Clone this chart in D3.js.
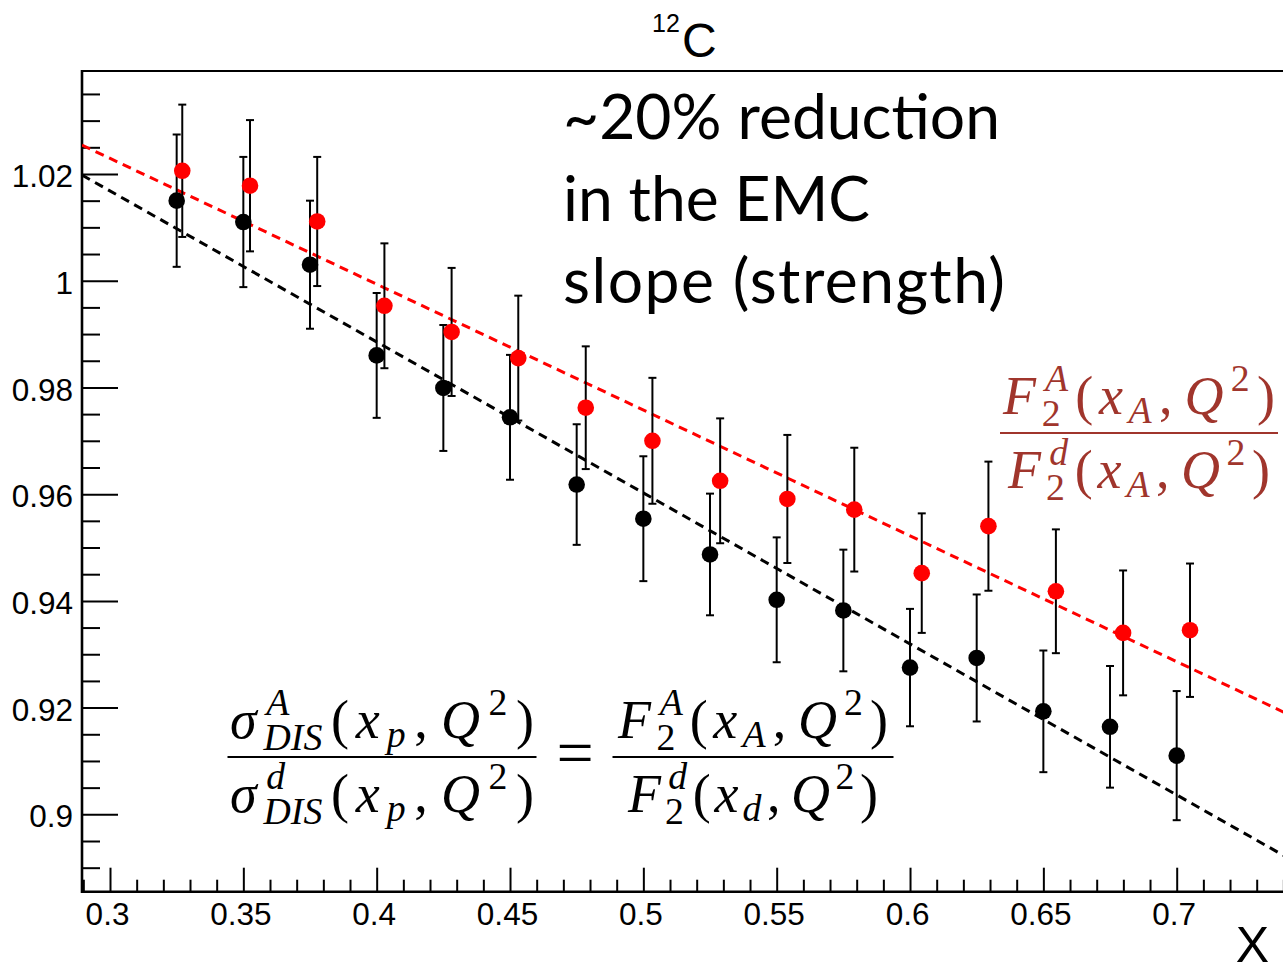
<!DOCTYPE html>
<html>
<head>
<meta charset="utf-8">
<script src="https://cdn.jsdelivr.net/npm/d3@7"></script>
<style>
  html, body { margin: 0; padding: 0; background: #fff; overflow: hidden; }
  svg { display: block; }
</style>
</head>
<body>
<svg id="chart" width="1283" height="966"></svg>
<script>
// ---- data: 12C / d ratio versus x, before (black) and after (red) the x shift ----
const xBlack = [0.325, 0.35, 0.375, 0.4, 0.425, 0.45, 0.475, 0.5, 0.525, 0.55, 0.575, 0.6, 0.625, 0.65, 0.675, 0.7];
const ratioBlack = [1.0150, 1.0110, 1.0030, 0.9860, 0.9799, 0.9744, 0.9618, 0.9554, 0.9487, 0.9402, 0.9382, 0.9275, 0.9293, 0.9193, 0.9164, 0.9110];
const errBlack = [0.0124, 0.0122, 0.0120, 0.0117, 0.0118, 0.0117, 0.0113, 0.0117, 0.0114, 0.0117, 0.0114, 0.0110, 0.0119, 0.0114, 0.0114, 0.0121];

const xRed = [0.3271, 0.3525, 0.3777, 0.4029, 0.4281, 0.4531, 0.4784, 0.5034, 0.5288, 0.5540, 0.5791, 0.6044, 0.6294, 0.6547, 0.6799, 0.7050];
const ratioRed = [1.0206, 1.0178, 1.0111, 0.9953, 0.9904, 0.9855, 0.9762, 0.9700, 0.9625, 0.9591, 0.9571, 0.9452, 0.9540, 0.9418, 0.9340, 0.9345];
const errRed = [0.0124, 0.0123, 0.0121, 0.0117, 0.0120, 0.0117, 0.0115, 0.0118, 0.0117, 0.0120, 0.0116, 0.0112, 0.0121, 0.0116, 0.0117, 0.0125];

// linear fits, given by their end points [x, ratio]
const fitBlack = [[0.2895, 1.0198], [0.745, 0.8909]];
const fitRed = [[0.2895, 1.0254], [0.745, 0.9180]];

// axis ticks
const xMajorTicks = [0.3, 0.35, 0.4, 0.45, 0.5, 0.55, 0.6, 0.65, 0.7];
const xTickLabels = ["0.3", "0.35", "0.4", "0.45", "0.5", "0.55", "0.6", "0.65", "0.7"];
const yMajorTicks = [0.9, 0.92, 0.94, 0.96, 0.98, 1.0, 1.02];
const yTickLabels = ["0.9", "0.92", "0.94", "0.96", "0.98", "1", "1.02"];

const annotationLines = ["~20% reduction", "in the EMC", "slope (strength)"];
const annotationWidths = [437, 307, 442];

// ---- layout ----
const svg = d3.select("#chart");
svg.append("rect").attr("width", 1283).attr("height", 966).attr("fill", "#fff");

const plotLeft = 82, plotTop = 71, plotBottom = 891.7, plotRight = 1296.7;
const x = d3.scaleLinear().domain([0.2895, 0.745]).range([plotLeft, plotRight]);
const y = d3.scaleLinear().domain([0.8855, 1.0393]).range([plotBottom, plotTop]);

const SANS = "'Liberation Sans', Arial, Helvetica, sans-serif";
const SERIF = "'Liberation Serif', 'Times New Roman', serif";

svg.append("defs").append("clipPath").attr("id", "plotclip")
  .append("rect").attr("x", plotLeft).attr("y", plotTop).attr("width", plotRight - plotLeft).attr("height", plotBottom - plotTop);

// ---- axes ----
const xMinor = d3.range(29, 75).map(d => d / 100).filter(v => !xMajorTicks.some(m => Math.abs(m - v) < 1e-6));
const yMinor = d3.range(177, 208).map(d => d * 0.005).filter(v => v > 0.8855 && v < 1.0393 && !yMajorTicks.some(m => Math.abs(m - v) < 1e-6));

const gx = svg.append("g").attr("transform", `translate(0,${plotBottom})`);
gx.call(d3.axisBottom(x).tickValues(xMajorTicks).tickFormat((d, i) => xTickLabels[i]).tickSizeInner(-24).tickSizeOuter(0).tickPadding(11));
gx.append("g").call(d3.axisBottom(x).tickValues(xMinor).tickFormat("").tickSizeInner(-12).tickSizeOuter(0));

const gy = svg.append("g").attr("transform", `translate(${plotLeft},0)`);
gy.call(d3.axisLeft(y).tickValues(yMajorTicks).tickFormat((d, i) => yTickLabels[i]).tickSizeInner(-36).tickSizeOuter(0).tickPadding(9));
gy.append("g").call(d3.axisLeft(y).tickValues(yMinor).tickFormat("").tickSizeInner(-18).tickSizeOuter(0));

svg.selectAll(".domain").remove();
svg.selectAll(".tick line").attr("stroke", "#000").attr("stroke-width", 2);
svg.selectAll(".tick text").attr("font-family", SANS).attr("font-size", 31.5).attr("fill", "#000");
gx.selectAll(".tick text").attr("dx", -3);
gy.selectAll(".tick text").attr("dy", "0.4em");

// frame
svg.append("line").attr("x1", plotLeft).attr("x2", 1290).attr("y1", plotTop).attr("y2", plotTop).attr("stroke", "#000").attr("stroke-width", 2);
svg.append("line").attr("x1", plotLeft).attr("x2", 1290).attr("y1", plotBottom).attr("y2", plotBottom).attr("stroke", "#000").attr("stroke-width", 2.6);
svg.append("line").attr("x1", plotLeft).attr("x2", plotLeft).attr("y1", plotTop - 1).attr("y2", plotBottom + 1.3).attr("stroke", "#000").attr("stroke-width", 2.6);

// ---- fit lines ----
const plotArea = svg.append("g").attr("clip-path", "url(#plotclip)");
const lineGen = d3.line().x(d => x(d[0])).y(d => y(d[1]));
plotArea.append("path").datum(fitBlack).attr("d", lineGen).attr("fill", "none")
  .attr("stroke", "#000").attr("stroke-width", 3).attr("stroke-dasharray", "9,6");
plotArea.append("path").datum(fitRed).attr("d", lineGen).attr("fill", "none")
  .attr("stroke", "#ff0000").attr("stroke-width", 3).attr("stroke-dasharray", "9,6");

// ---- points with error bars ----
function drawSeries(xs, vals, errs, color) {
  const g = svg.append("g");
  const pts = xs.map((xv, i) => ({ x: xv, v: vals[i], e: errs[i] }));
  const bars = g.selectAll("g.bar").data(pts).join("g").attr("class", "bar");
  bars.append("line").attr("x1", d => x(d.x)).attr("x2", d => x(d.x))
    .attr("y1", d => y(d.v + d.e)).attr("y2", d => y(d.v - d.e)).attr("stroke", "#000").attr("stroke-width", 2);
  [1, -1].forEach(s => {
    bars.append("line").attr("x1", d => x(d.x) - 4).attr("x2", d => x(d.x) + 4)
      .attr("y1", d => y(d.v + s * d.e)).attr("y2", d => y(d.v + s * d.e)).attr("stroke", "#000").attr("stroke-width", 2);
  });
  g.selectAll("circle").data(pts).join("circle")
    .attr("cx", d => x(d.x)).attr("cy", d => y(d.v)).attr("r", 8.3).attr("fill", color);
}
drawSeries(xBlack, ratioBlack, errBlack, "#000");
drawSeries(xRed, ratioRed, errRed, "#ff0000");

// ---- title and axis title ----
const title = svg.append("text").attr("font-family", SANS).attr("fill", "#000");
title.append("tspan").attr("x", 652).attr("y", 32).attr("font-size", 25).text("12");
title.append("tspan").attr("x", 682).attr("y", 57).attr("font-size", 48).text("C");

svg.append("text").attr("x", 1269).attr("y", 962).attr("text-anchor", "end")
  .attr("font-family", SANS).attr("font-size", 50).attr("fill", "#000").text("X");

// ---- annotation ----
const annot = svg.append("g");
const ANNOT_FONT = "Lato, 'Open Sans', sans-serif";
const probe = annot.append("text").attr("font-family", ANNOT_FONT).attr("font-size", 100).text(annotationLines[0]);
const annotSize = 100 * annotationWidths[0] / probe.node().getComputedTextLength();
probe.remove();
annotationLines.forEach((t, i) => {
  annot.append("text").attr("x", 563).attr("y", 139 + i * 82)
    .attr("font-family", ANNOT_FONT).attr("font-size", annotSize).attr("fill", "#000")
    .attr("textLength", annotationWidths[i]).attr("lengthAdjust", "spacing").text(t);
});

// ---- formulas ----
// One <text> per row; tokens: {t, it} glyph run on the baseline,
// {sup, sub, supIt, subIt} scripts attached to the previous glyph.
function mathRun(g, tokens, fs, color, extra) {
  const row = g.append("text").attr("font-family", SERIF).attr("fill", color);
  let cx = 0;
  const put = (str, dx, dy, size, it) => {
    const ts = row.append("tspan").attr("x", cx + dx).attr("y", dy)
      .attr("font-size", size).attr("font-style", it ? "italic" : "normal").text(str);
    return ts.node().getComputedTextLength();
  };
  tokens.forEach((tk, i) => {
    const gap = i < tokens.length - 1 ? extra : 0;
    if (tk.sup !== undefined || tk.sub !== undefined) {
      let w = 0;
      if (tk.sup) { const dx = fs * (tk.supDx || 0); w = Math.max(w, dx + put(tk.sup, dx, -fs * 0.42, fs * 0.7, tk.supIt)); }
      if (tk.sub) { const dx = fs * (tk.subDx || 0); w = Math.max(w, dx + put(tk.sub, dx, fs * (tk.sup ? 0.22 : 0.16), fs * 0.7, tk.subIt)); }
      cx += w + fs * 0.03 + gap;
    } else {
      cx += put(tk.t, 0, 0, fs, tk.it) + (tk.after || 0) * fs + gap;
    }
  });
  return cx;
}

// fraction with glyphs at a fixed size, spaced out to the given widths
function fraction(num, den, cxCenter, barY, numW, denW, barW, fs, color) {
  const g = svg.append("g");
  const fit = (tokens, target) => {
    const tmp = g.append("g");
    const w0 = mathRun(tmp, tokens, fs, color, 0);
    tmp.remove();
    const extra = (target - w0) / (tokens.length - 1);
    const gg = g.append("g");
    const w = mathRun(gg, tokens, fs, color, extra);
    return { gg, w };
  };
  const n = fit(num, numW), d = fit(den, denW);
  n.gg.attr("transform", `translate(${cxCenter - n.w / 2},${barY - 19})`);
  d.gg.attr("transform", `translate(${cxCenter - d.w / 2},${barY + 55})`);
  g.append("line").attr("x1", cxCenter - barW / 2).attr("x2", cxCenter + barW / 2)
    .attr("y1", barY).attr("y2", barY).attr("stroke", color).attr("stroke-width", 2);
}

const sigmaNum = [{ t: "σ", it: true }, { sup: "A", supIt: true, supDx: 0.05, sub: "DIS", subIt: true }, { t: "(" }, { t: "x", it: true }, { sub: "p", subIt: true }, { t: ",", after: 0.12 }, { t: "Q", it: true }, { sup: "2", supDx: 0.03 }, { t: ")" }];
const sigmaDen = [{ t: "σ", it: true }, { sup: "d", supIt: true, supDx: 0.05, sub: "DIS", subIt: true }, { t: "(" }, { t: "x", it: true }, { sub: "p", subIt: true }, { t: ",", after: 0.12 }, { t: "Q", it: true }, { sup: "2", supDx: 0.03 }, { t: ")" }];
const f2A = [{ t: "F", it: true }, { sup: "A", supIt: true, supDx: 0.06, sub: "2" }, { t: "(" }, { t: "x", it: true }, { sub: "A", subIt: true }, { t: ",", after: 0.12 }, { t: "Q", it: true }, { sup: "2", supDx: 0.03 }, { t: ")" }];
const f2dd = [{ t: "F", it: true }, { sup: "d", supIt: true, supDx: 0.06, sub: "2" }, { t: "(" }, { t: "x", it: true }, { sub: "d", subIt: true }, { t: ",", after: 0.12 }, { t: "Q", it: true }, { sup: "2", supDx: 0.03 }, { t: ")" }];
const f2dA = [{ t: "F", it: true }, { sup: "d", supIt: true, supDx: 0.06, sub: "2" }, { t: "(" }, { t: "x", it: true }, { sub: "A", subIt: true }, { t: ",", after: 0.12 }, { t: "Q", it: true }, { sup: "2", supDx: 0.03 }, { t: ")" }];

const MATH_FS = 54;
fraction(sigmaNum, sigmaDen, 382, 757, 304, 304, 309, MATH_FS, "#000");
svg.append("text").attr("x", 575).attr("y", 757 + 0.27 * 66).attr("text-anchor", "middle")
  .attr("font-family", SERIF).attr("font-size", 66).attr("fill", "#000").text("=");
fraction(f2A, f2dd, 753, 757, 270, 250, 281, MATH_FS, "#000");
fraction(f2A, f2dA, 1139, 433, 272, 262, 278, MATH_FS, "#a0352c");
</script>
</body>
</html>
